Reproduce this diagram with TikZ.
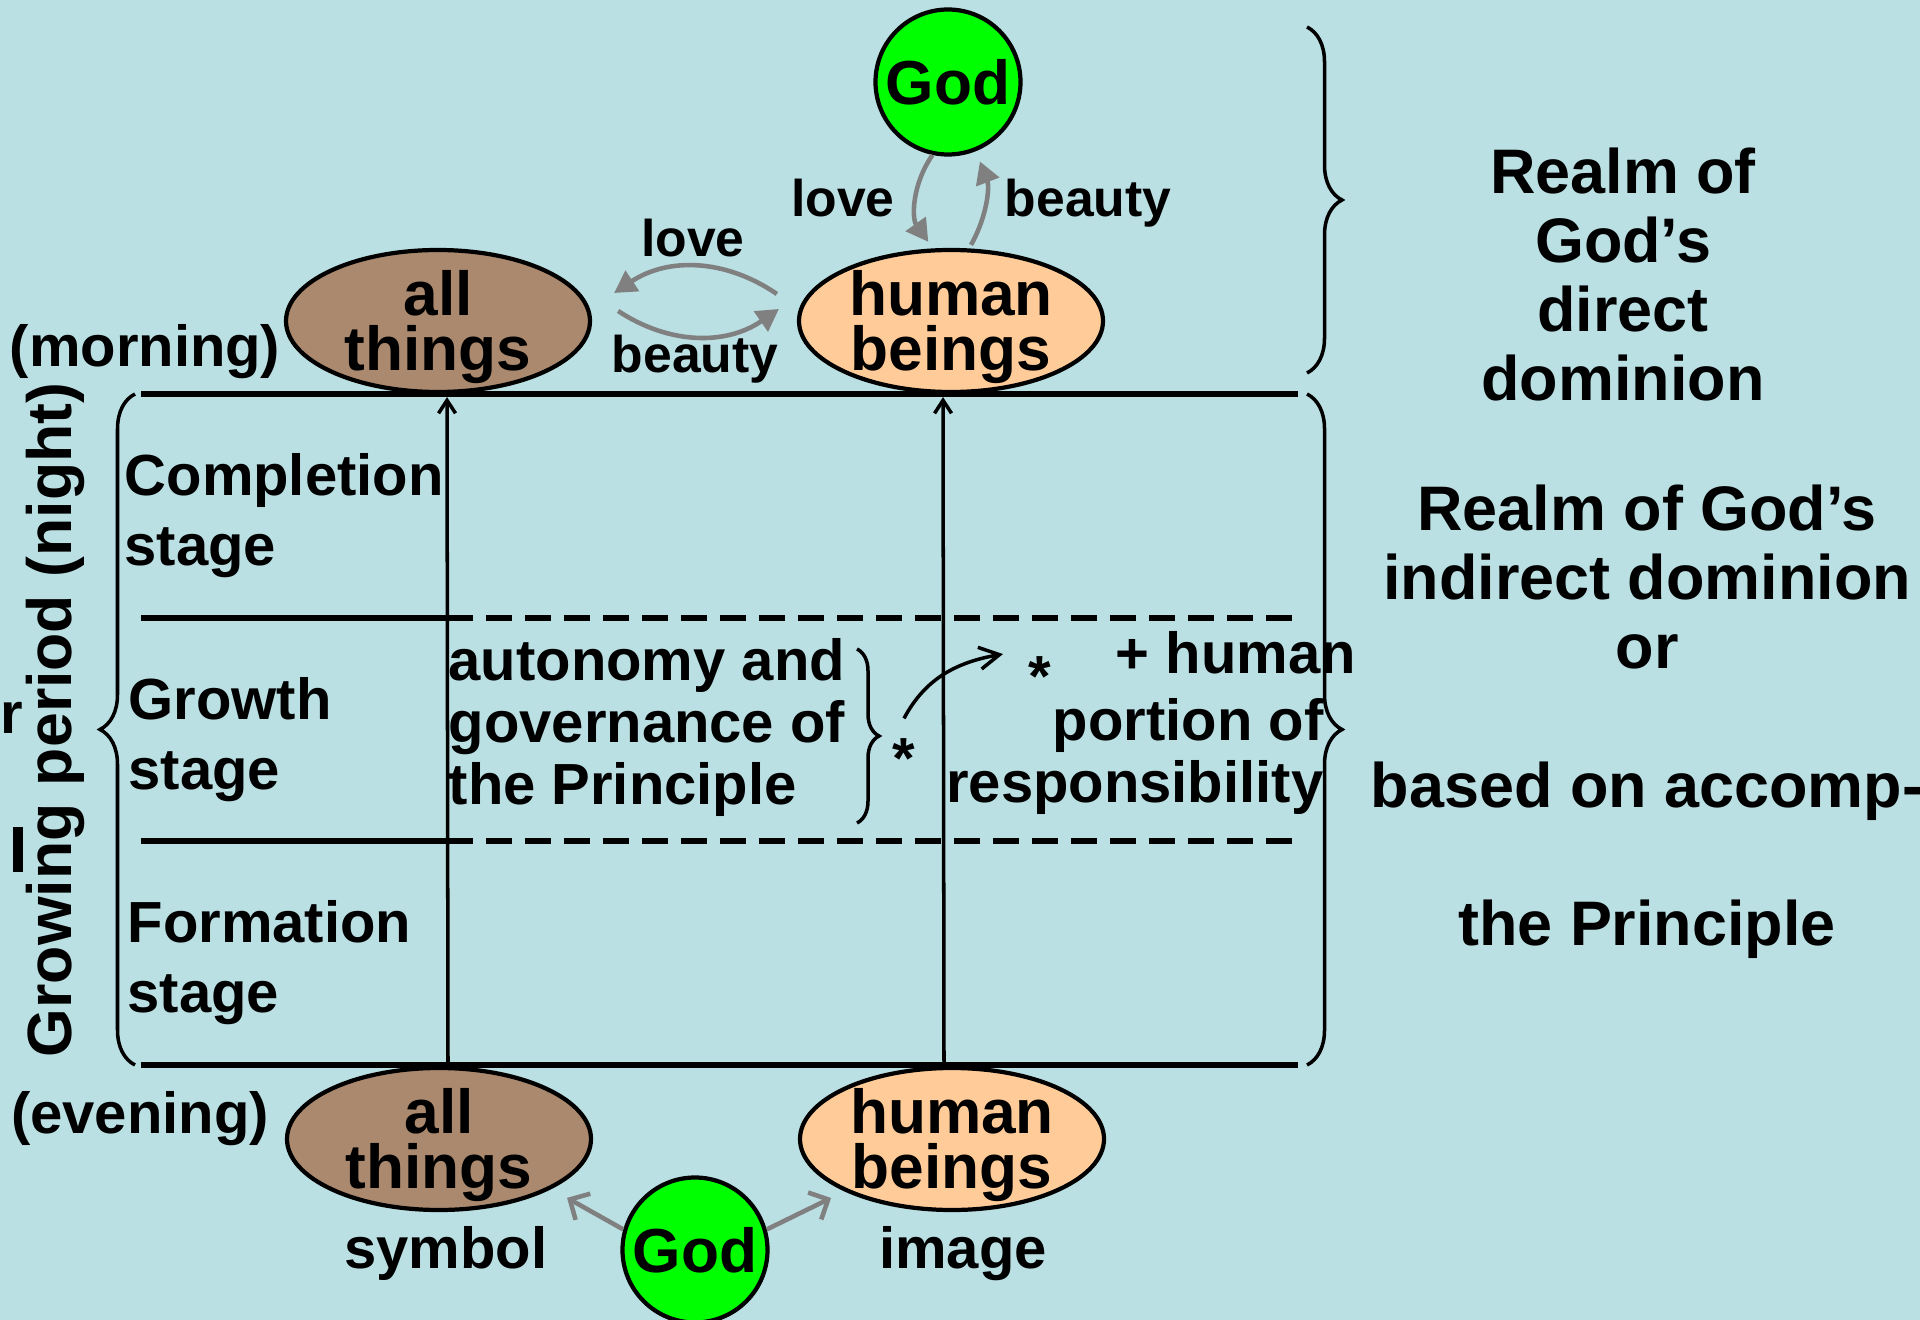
\documentclass[tikz,border=0pt]{standalone}
\usepackage{fontspec}
\setmainfont{Liberation Sans}
\usepackage{tikz}
\usetikzlibrary{arrows.meta}
\usetikzlibrary{shapes.geometric}
\usetikzlibrary{decorations.pathreplacing}
\definecolor{paper}{RGB}{186,224,228}
\definecolor{godgreen}{RGB}{0,255,0}
\definecolor{thingbrown}{RGB}{170,137,110}
\definecolor{humanpeach}{RGB}{255,204,153}
\definecolor{flowgray}{RGB}{128,128,128}
\newcommand{\orbfont}{\fontsize{17.7}{15.6}\selectfont\bfseries}
\newcommand{\stagefont}{\fontsize{16.5}{19.8}\selectfont\bfseries}
\newcommand{\periodfont}{\fontsize{17.8}{20}\selectfont\bfseries}
\newcommand{\notefont}{\fontsize{16.5}{17.6}\selectfont\bfseries}
\newcommand{\realmfont}{\fontsize{17.9}{19.7}\selectfont\bfseries}
\newcommand{\flowfont}{\fontsize{14.7}{16}\selectfont\bfseries}
\newcommand{\orbstrut}{\rule{0pt}{0.57cm}}
\tikzstyle{orb}=[ellipse, draw=black, line width=1.2pt, minimum width=3.04cm, minimum height=1.42cm, inner xsep=0pt, inner ysep=-0.13cm, align=center, font=\orbfont]
\tikzstyle{things}=[orb, fill=thingbrown]
\tikzstyle{humans}=[orb, fill=humanpeach]
\tikzstyle{god}=[circle, draw=black, line width=1.2pt, fill=godgreen, minimum size=1.45cm, inner sep=0pt, font=\orbfont]
\tikzstyle{flow}=[draw=flowgray, line width=1.3pt, -{Triangle[length=0.22cm,width=0.24cm]}]
\tikzstyle{gift}=[draw=flowgray, line width=1.3pt, -{Straight Barb[length=0.15cm,width=0.3cm]}]
\tikzstyle{rise}=[line width=1pt, -{Straight Barb[length=0.13cm,width=0.17cm]}]
\tikzstyle{stageline}=[line width=1.7pt]
\tikzstyle{curly}=[decorate, decoration={brace, amplitude=0.35cm}, line width=1pt]

\begin{document}
\begin{tikzpicture}[x=1cm, y=-1cm]
  \fill[paper] (0,0) rectangle (19.2,13.2);
  \useasboundingbox (0,0) rectangle (19.2,13.2);

  % morning: direct dominion
  \node[god] (godtop) at (9.48,0.82) {God};
  \node[things] (attop) at (4.38,3.21) {\orbstrut all\\things};
  \node[humans] (hbtop) at (9.51,3.21) {\orbstrut human\\beings};
  \node[font=\stagefont, anchor=base] (morning) at (1.45,3.67) {(morning)};

  \draw[flow] ([xshift=-0.2cm,yshift=0.27cm]hbtop.west) to[bend right=34] ([xshift=0.22cm,yshift=0.28cm]attop.east);
  \draw[flow] ([xshift=0.26cm,yshift=0.1cm]attop.east) to[bend right=34] ([xshift=-0.18cm,yshift=0.12cm]hbtop.west);
  \draw[flow, shorten >=0.08cm] (godtop.258) to[bend right=35] (hbtop.104);
  \draw[flow, shorten <=0.04cm, shorten >=0.11cm] (hbtop.76) to[bend right=25] (godtop.292);
  \node[font=\flowfont, anchor=base] (lovetop) at (8.43,2.17) {love};
  \node[font=\flowfont, anchor=base] (beautytop) at (10.88,2.17) {beauty};
  \node[font=\flowfont, anchor=base] (loveside) at (6.93,2.57) {love};
  \node[font=\flowfont, anchor=base] (beautyside) at (6.95,3.73) {beauty};

  % evening
  \node[things] (atbot) at (4.39,11.39) {\orbstrut all\\things};
  \node[humans] (hbbot) at (9.52,11.39) {\orbstrut human\\beings};
  \node[god] (godbot) at (6.95,12.50) {God};
  \node[font=\stagefont, anchor=base] (evening) at (1.40,11.33) {(evening)};
  \node[font=\stagefont, anchor=base] (symbol) at (4.46,12.68) {symbol};
  \node[font=\stagefont, anchor=base] (image) at (9.63,12.68) {image};
  \draw[gift, shorten >=0.18cm] (godbot.164) -- (atbot.-24);
  \draw[gift, shorten >=0.15cm] (godbot.16) -- (hbbot.206);

  % growing period
  \foreach \y in {3.94,10.65}
    \draw[stageline] (1.41,\y) -- (12.98,\y);
  \foreach \y in {6.18,8.41} {
    \draw[stageline] (1.41,\y) -- (4.47,\y);
    \draw[stageline, dash pattern=on 0.26cm off 0.13cm] (4.47,\y) -- (12.98,\y);
  }
  \draw[rise, shorten >=0.03cm] ([xshift=0.09cm]atbot.north) -- ([xshift=0.09cm]attop.south);
  \draw[rise, shorten >=0.03cm] ([xshift=-0.08cm]hbbot.north) -- ([xshift=-0.08cm]hbtop.south);

  \draw[curly] (1.35,10.65) -- (1.35,3.94);
  \draw[curly] (13.07,3.94) -- (13.07,10.65);
  \draw[curly] (13.07,0.27) -- (13.07,3.73);
  \draw[curly, decoration={amplitude=0.22cm}] (8.57,6.49) -- (8.57,8.23);

  \node[font=\stagefont, align=left, anchor=north west, inner sep=0pt] (completion) at (1.24,4.53) {Completion\\stage};
  \node[font=\stagefont, align=left, anchor=north west, inner sep=0pt] (growth) at (1.28,6.77) {Growth\\stage};
  \node[font=\stagefont, align=left, anchor=north west, inner sep=0pt] (formation) at (1.27,9.0) {Formation\\stage};
  \node[font=\notefont, align=left, anchor=north west, inner sep=0pt] (autonomy) at (4.48,6.38) {autonomy and\\governance of\\the Principle};
  \node[font=\notefont, anchor=base, inner sep=0pt] (star1) at (9.04,7.79) {*};
  \node[font=\notefont, anchor=base, inner sep=0pt] (star2) at (10.40,6.97) {*};
  \node[font=\notefont, anchor=base west, inner sep=0pt] (plus) at (11.15,6.73) {+ human};
  \node[font=\notefont, align=right, anchor=north east, inner sep=0pt] (portion) at (13.24,6.98) {portion of\\responsibility};
  \draw[line width=1pt, -{Straight Barb[length=0.2cm,width=0.22cm]}] ([yshift=0.2cm]star1.north) to[out=62,in=190] ([shift={(-0.25,-0.23)}]star2.west);

  \node[font=\periodfont, rotate=90] (period) at (0.55,7.20) {Growing period (night)};
  \node[font=\stagefont, anchor=base west, inner sep=0pt] (rr) at (0.0,7.33) {r};
  \fill (0.13,8.27) rectangle (0.23,8.72);

  % realms
  \node[font=\realmfont, align=center, anchor=north, inner sep=0pt] (direct) at (16.23,1.47) {Realm of\\God’s\\direct\\dominion};
  \node[font=\realmfont, align=center, anchor=north, inner sep=0pt] (indirect) at (16.47,4.84) {Realm of God’s\\indirect dominion\\or\\~\\based on accomp-\\~\\the Principle};
\end{tikzpicture}
\end{document}
